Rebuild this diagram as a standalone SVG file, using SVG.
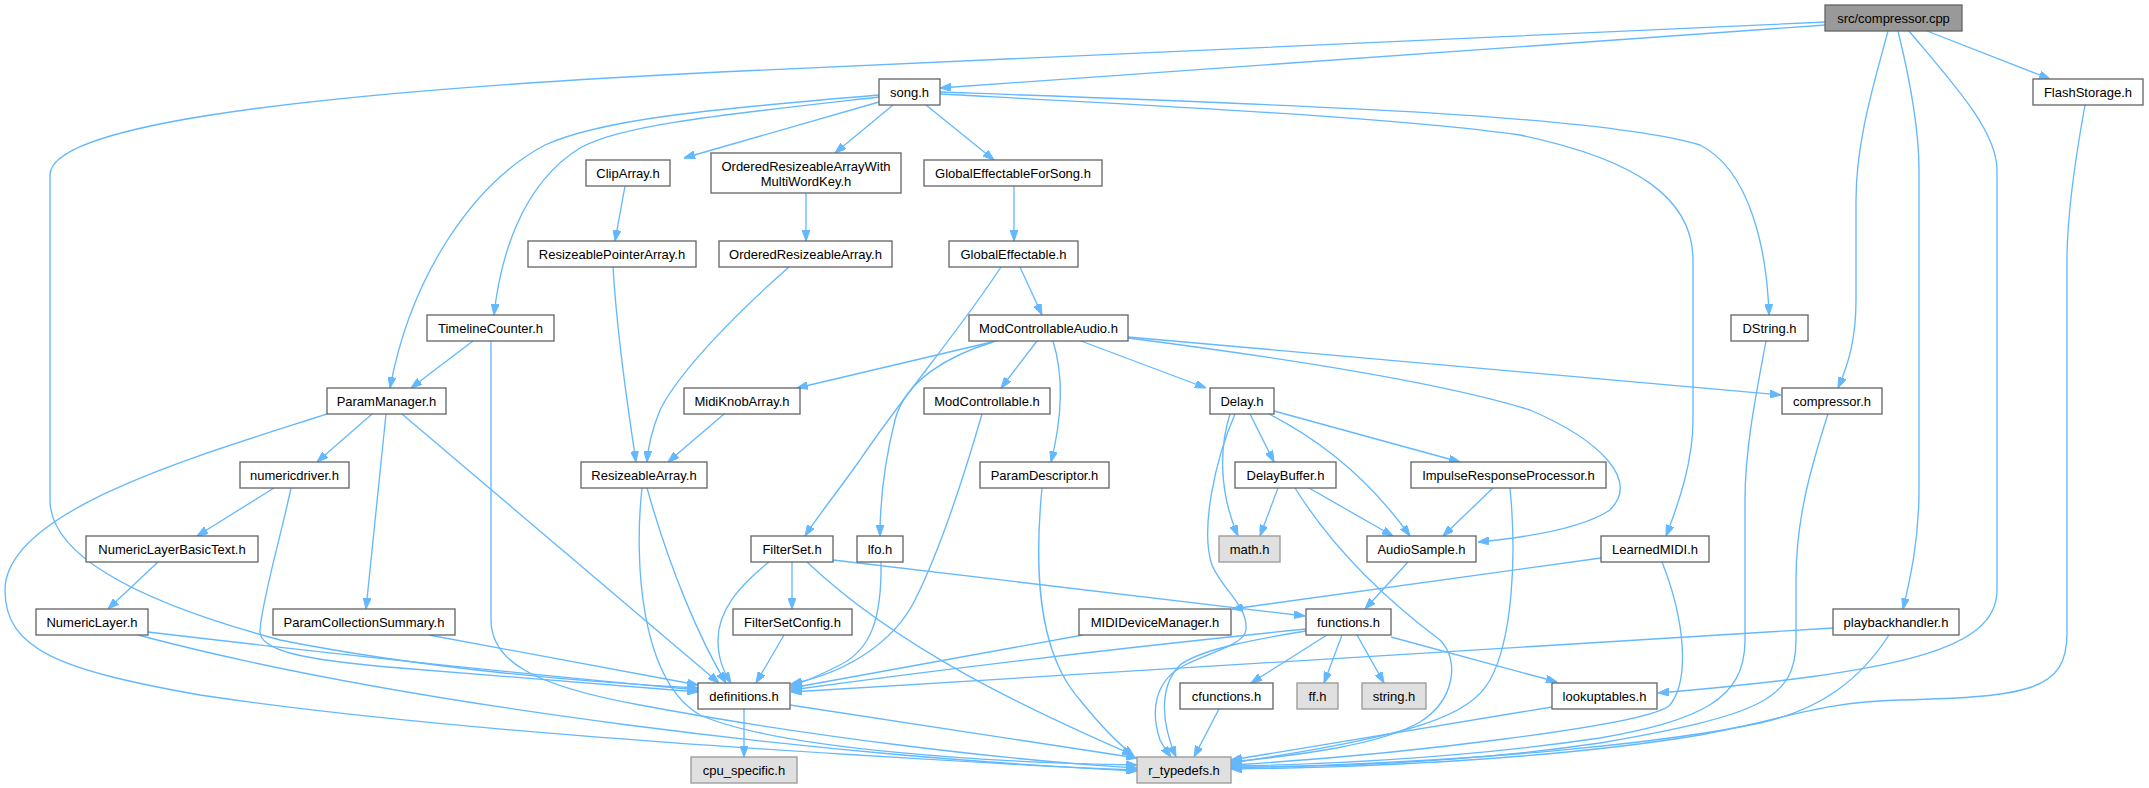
<svg xmlns="http://www.w3.org/2000/svg" width="2149" height="788" viewBox="0 0 2149 788">
<style>
.n rect{fill:#ffffff;stroke:#666666;stroke-width:1.33}
.n.root rect{fill:#999999;stroke:#666666}
.n.ext rect{fill:#e0e0e0;stroke:#999999}
.n text{font-family:"Liberation Sans",Arial,Helvetica,sans-serif;font-size:13px;fill:#000000;text-anchor:middle}
#edges path{fill:none;stroke:#63b8ff;stroke-width:1.33;marker-end:url(#a)}
</style>
<defs>
<marker id="a" viewBox="0 0 11 8" refX="11" refY="4" markerWidth="11" markerHeight="8" markerUnits="userSpaceOnUse" orient="auto">
<path d="M0,0L11,4L0,8z" fill="#63b8ff" stroke="#63b8ff" stroke-width="1"/>
</marker>
</defs>
<rect width="2149" height="788" fill="#ffffff"/>
<g id="edges">
<path d="M1826,25 L940,88"/>
<path d="M1826,22 L720,72 C250,95 50,130 50,175 L50,500 C50,560 150,605 280,640 C420,668 580,682 698,688"/>
<path d="M1888,31 C1875,80 1856,140 1856,200 L1856,300 C1856,340 1848,365 1838,388"/>
<path d="M1898,31 C1910,80 1919,130 1919,170 L1919,490 C1919,540 1910,580 1903,609"/>
<path d="M1909,31 C1950,80 1997,130 1997,170 L1997,590 C1997,650 1900,672 1658,693"/>
<path d="M1927,31 L2050,79"/>
<path d="M2085,105 C2075,160 2067,220 2067,260 L2067,633 C2067,690 2030,697 1900,700 C1820,702 1790,718 1700,735 C1550,760 1350,768 1231,769"/>
<path d="M940,94 C1200,108 1400,118 1520,135 C1640,160 1693,200 1693,260 L1693,420 C1693,460 1680,500 1666,536"/>
<path d="M940,92 C1300,105 1600,115 1700,145 C1750,170 1767,250 1769,315"/>
<path d="M879,95 C700,110 600,120 545,145 C470,185 410,280 390,388"/>
<path d="M879,97 C720,115 620,125 580,148 C520,185 500,260 494,315"/>
<path d="M879,102 L684,158"/>
<path d="M893,105 L835,153"/>
<path d="M926,105 L994,160"/>
<path d="M625,186 L615,241"/>
<path d="M806,193 L806,241"/>
<path d="M1014,186 L1014,241"/>
<path d="M613,267 C618,350 630,420 636,462"/>
<path d="M789,267 C740,310 680,370 660,410 C652,430 648,445 647,462"/>
<path d="M1020,267 L1042,315"/>
<path d="M1001,267 C960,330 900,400 860,460 C835,495 815,520 805,536"/>
<path d="M473,341 L411,388"/>
<path d="M491,341 L491,620 C491,660 530,685 640,705 C800,735 1000,760 1137,768"/>
<path d="M996,341 L797,388"/>
<path d="M993,342 C950,355 905,380 895,420 C885,460 880,500 880,536"/>
<path d="M1037,341 L1001,388"/>
<path d="M1053,341 C1062,370 1064,410 1051,462"/>
<path d="M1081,341 L1206,388"/>
<path d="M1128,337 L1781,395"/>
<path d="M1128,338 C1300,360 1450,385 1530,410 C1600,440 1640,480 1610,510 C1580,530 1520,538 1478,542"/>
<path d="M1766,341 C1755,400 1745,450 1745,500 L1745,640 C1745,700 1700,720 1600,738 C1450,760 1300,765 1231,766"/>
<path d="M1828,414 C1810,470 1796,520 1796,580 L1796,640 C1796,700 1760,715 1600,743 C1450,765 1300,767 1231,767"/>
<path d="M372,414 L317,462"/>
<path d="M386,414 L366,609"/>
<path d="M402,414 L719,683"/>
<path d="M327,414 C200,455 5,510 5,590 C5,650 60,670 200,695 C400,725 700,748 1137,771"/>
<path d="M724,414 L668,462"/>
<path d="M982,414 C960,490 935,560 915,600 C895,640 850,672 791,684"/>
<path d="M1230,414 C1220,445 1218,490 1238,536"/>
<path d="M1250,414 L1274,462"/>
<path d="M1269,414 C1320,440 1370,480 1410,536"/>
<path d="M1274,411 L1460,462"/>
<path d="M1235,414 C1215,460 1200,530 1212,565 C1222,590 1248,605 1246,630 C1244,645 1210,652 1185,665 C1155,680 1150,710 1160,740 C1164,748 1168,753 1171,757"/>
<path d="M274,488 L197,536"/>
<path d="M291,488 C280,540 262,600 260,630 C258,650 300,660 400,668 C550,680 650,688 698,692"/>
<path d="M647,488 C670,570 700,640 726,683"/>
<path d="M642,488 C634,560 640,680 700,715 C780,750 1000,763 1137,765"/>
<path d="M1042,488 C1035,560 1035,650 1080,700 C1100,725 1120,745 1134,756"/>
<path d="M1278,488 L1260,536"/>
<path d="M1309,488 L1393,536"/>
<path d="M1295,488 C1340,560 1400,610 1440,640 C1460,660 1455,700 1420,722 C1380,745 1300,755 1231,762"/>
<path d="M1493,488 L1443,536"/>
<path d="M1510,488 C1517,560 1512,640 1490,680 C1470,715 1420,735 1231,763"/>
<path d="M158,562 L108,609"/>
<path d="M769,562 C740,585 718,610 718,640 C718,660 724,672 731,683"/>
<path d="M792,562 L792,609"/>
<path d="M807,562 C900,650 1030,710 1133,755"/>
<path d="M833,560 L1305,616"/>
<path d="M881,562 C882,620 870,650 840,665 C820,675 805,682 791,686"/>
<path d="M1408,562 L1365,609"/>
<path d="M1601,558 L1232,609"/>
<path d="M1662,562 C1685,620 1690,680 1670,705 C1650,725 1400,755 1231,765"/>
<path d="M148,632 C300,650 500,672 698,690"/>
<path d="M138,635 C400,705 850,760 1137,770"/>
<path d="M429,635 L698,685"/>
<path d="M784,635 L756,683"/>
<path d="M1083,635 L791,688"/>
<path d="M1306,629 C1100,650 900,675 791,690"/>
<path d="M1306,631 C1250,640 1200,650 1180,665 C1160,685 1160,720 1176,757"/>
<path d="M1327,635 L1251,683"/>
<path d="M1342,635 L1324,683"/>
<path d="M1357,635 L1384,683"/>
<path d="M1391,637 L1557,682"/>
<path d="M1833,628 L791,692"/>
<path d="M1889,635 C1860,680 1820,710 1760,723 C1680,740 1500,762 1231,768"/>
<path d="M744,709 L744,757"/>
<path d="M790,705 L1137,758"/>
<path d="M1219,709 L1194,757"/>
<path d="M1552,707 L1231,760"/>
</g>
<g id="n_cpp" class="n root"><rect x="1825" y="5" width="137" height="26"/><text x="1893.5" y="22.5">src/compressor.cpp</text></g>
<g id="n_song" class="n"><rect x="879" y="79" width="61" height="26"/><text x="909.5" y="96.5">song.h</text></g>
<g id="n_flash" class="n"><rect x="2033" y="79" width="110" height="26"/><text x="2088" y="96.5">FlashStorage.h</text></g>
<g id="n_cliparray" class="n"><rect x="586" y="160" width="84" height="26"/><text x="628" y="177.5">ClipArray.h</text></g>
<g id="n_oramwk" class="n"><rect x="711" y="153" width="190" height="40"/><text x="806" y="170.5">OrderedResizeableArrayWith</text><text x="806" y="185.5">MultiWordKey.h</text></g>
<g id="n_gefs" class="n"><rect x="924" y="160" width="178" height="26"/><text x="1013" y="177.5">GlobalEffectableForSong.h</text></g>
<g id="n_rpa" class="n"><rect x="528" y="241" width="168" height="26"/><text x="612" y="258.5">ResizeablePointerArray.h</text></g>
<g id="n_ora" class="n"><rect x="719" y="241" width="173" height="26"/><text x="805.5" y="258.5">OrderedResizeableArray.h</text></g>
<g id="n_ge" class="n"><rect x="949" y="241" width="129" height="26"/><text x="1013.5" y="258.5">GlobalEffectable.h</text></g>
<g id="n_tc" class="n"><rect x="427" y="315" width="127" height="26"/><text x="490.5" y="332.5">TimelineCounter.h</text></g>
<g id="n_mca" class="n"><rect x="969" y="315" width="159" height="26"/><text x="1048.5" y="332.5">ModControllableAudio.h</text></g>
<g id="n_dstring" class="n"><rect x="1731" y="315" width="77" height="26"/><text x="1769.5" y="332.5">DString.h</text></g>
<g id="n_pm" class="n"><rect x="327" y="388" width="119" height="26"/><text x="386.5" y="405.5">ParamManager.h</text></g>
<g id="n_mka" class="n"><rect x="684" y="388" width="116" height="26"/><text x="742" y="405.5">MidiKnobArray.h</text></g>
<g id="n_mc" class="n"><rect x="924" y="388" width="126" height="26"/><text x="987" y="405.5">ModControllable.h</text></g>
<g id="n_delay" class="n"><rect x="1210" y="388" width="64" height="26"/><text x="1242" y="405.5">Delay.h</text></g>
<g id="n_comph" class="n"><rect x="1782" y="388" width="100" height="26"/><text x="1832" y="405.5">compressor.h</text></g>
<g id="n_nd" class="n"><rect x="240" y="462" width="109" height="26"/><text x="294.5" y="479.5">numericdriver.h</text></g>
<g id="n_ra" class="n"><rect x="581" y="462" width="126" height="26"/><text x="644" y="479.5">ResizeableArray.h</text></g>
<g id="n_pd" class="n"><rect x="980" y="462" width="129" height="26"/><text x="1044.5" y="479.5">ParamDescriptor.h</text></g>
<g id="n_db" class="n"><rect x="1235" y="462" width="101" height="26"/><text x="1285.5" y="479.5">DelayBuffer.h</text></g>
<g id="n_irp" class="n"><rect x="1411" y="462" width="195" height="26"/><text x="1508.5" y="479.5">ImpulseResponseProcessor.h</text></g>
<g id="n_nlbt" class="n"><rect x="86" y="536" width="172" height="26"/><text x="172" y="553.5">NumericLayerBasicText.h</text></g>
<g id="n_fs" class="n"><rect x="751" y="536" width="82" height="26"/><text x="792" y="553.5">FilterSet.h</text></g>
<g id="n_lfo" class="n"><rect x="857" y="536" width="46" height="26"/><text x="880" y="553.5">lfo.h</text></g>
<g id="n_math" class="n ext"><rect x="1219" y="536" width="61" height="26"/><text x="1249.5" y="553.5">math.h</text></g>
<g id="n_as" class="n"><rect x="1367" y="536" width="109" height="26"/><text x="1421.5" y="553.5">AudioSample.h</text></g>
<g id="n_lm" class="n"><rect x="1601" y="536" width="108" height="26"/><text x="1655" y="553.5">LearnedMIDI.h</text></g>
<g id="n_nl" class="n"><rect x="36" y="609" width="112" height="26"/><text x="92" y="626.5">NumericLayer.h</text></g>
<g id="n_pcs" class="n"><rect x="273" y="609" width="182" height="26"/><text x="364" y="626.5">ParamCollectionSummary.h</text></g>
<g id="n_fsc" class="n"><rect x="733" y="609" width="119" height="26"/><text x="792.5" y="626.5">FilterSetConfig.h</text></g>
<g id="n_mididm" class="n"><rect x="1079" y="609" width="152" height="26"/><text x="1155" y="626.5">MIDIDeviceManager.h</text></g>
<g id="n_func" class="n"><rect x="1306" y="609" width="85" height="26"/><text x="1348.5" y="626.5">functions.h</text></g>
<g id="n_pbh" class="n"><rect x="1833" y="609" width="126" height="26"/><text x="1896" y="626.5">playbackhandler.h</text></g>
<g id="n_defs" class="n"><rect x="698" y="683" width="92" height="26"/><text x="744" y="700.5">definitions.h</text></g>
<g id="n_cfunc" class="n"><rect x="1180" y="683" width="93" height="26"/><text x="1226.5" y="700.5">cfunctions.h</text></g>
<g id="n_ff" class="n ext"><rect x="1297" y="683" width="41" height="26"/><text x="1317.5" y="700.5">ff.h</text></g>
<g id="n_string" class="n ext"><rect x="1362" y="683" width="64" height="26"/><text x="1394" y="700.5">string.h</text></g>
<g id="n_lut" class="n"><rect x="1552" y="683" width="105" height="26"/><text x="1604.5" y="700.5">lookuptables.h</text></g>
<g id="n_cpu" class="n ext"><rect x="691" y="757" width="106" height="26"/><text x="744" y="774.5">cpu_specific.h</text></g>
<g id="n_rtd" class="n ext"><rect x="1137" y="757" width="94" height="26"/><text x="1184" y="774.5">r_typedefs.h</text></g>
</svg>
